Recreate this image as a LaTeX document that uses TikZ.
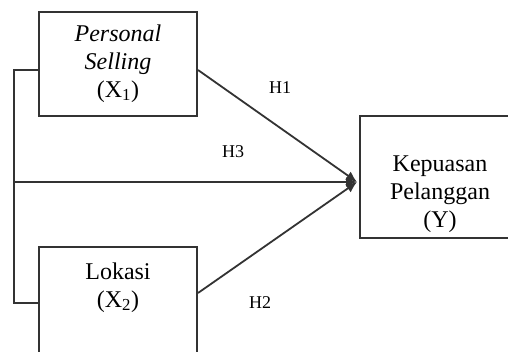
\documentclass[tikz,border=0pt]{standalone}
\usepackage{fontspec}
\setmainfont{Liberation Serif}
\usetikzlibrary{arrows.meta}
\definecolor{ln}{HTML}{333333}
\begin{document}
\begin{tikzpicture}[x=1pt,y=-1pt,
  box/.style={draw=ln,line width=2pt,rectangle,inner sep=0pt},
  lab/.style={font=\fontsize{24}{28}\selectfont,align=center,inner sep=0pt},
  hl/.style={font=\fontsize{18}{20}\selectfont,inner sep=0pt},
  con/.style={draw=ln,line width=1.8pt},
  arr/.style={con,-{Latex[length=11pt,width=10pt]}}]
\useasboundingbox (0,0) rectangle (508,351);
\clip (0,0) rectangle (508,351);
\node[box,minimum width=158pt,minimum height=104pt] (x1) at (118,64) {};
\node[box,minimum width=158pt,minimum height=112pt] (x2) at (118,303) {};
\node[box,minimum width=160pt,minimum height=122pt] (y) at (440,177) {};
\node[lab,anchor=base] (t1) at (118,97) {\textit{Personal}\\\textit{Selling}\\(X\textsubscript{1})};
\node[lab,anchor=base] (t2) at (118,307) {Lokasi\\(X\textsubscript{2})};
\node[lab,anchor=base] (t3) at (440,227) {Kepuasan\\Pelanggan\\(Y)};
\coordinate (tip) at (357,182);
\coordinate (a1) at (x1.east |- 0,70);
\coordinate (a2) at (x2.east |- 0,293);
\coordinate (b1) at (14,70);
\coordinate (b2) at (14,303);
\coordinate (b3) at (14,182);
\draw[con] (x1.west |- b1) -- (b1) -- (b2) -- (x2.west |- b2);
\draw[arr] (b3) -- (tip);
\draw[arr] (a1) -- (tip);
\draw[arr] (a2) -- (tip);
\node[hl] (h1) at (280,88) {H1};
\node[hl] (h3) at (233,152) {H3};
\node[hl] (h2) at (260,303) {H2};
\end{tikzpicture}
\end{document}
